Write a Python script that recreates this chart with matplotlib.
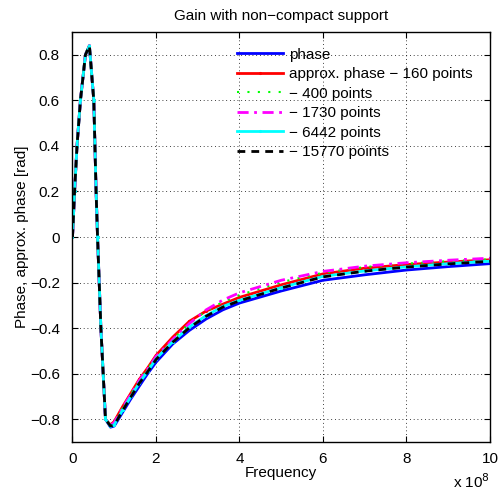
import numpy as np
import matplotlib
matplotlib.use("Agg")
import matplotlib.pyplot as plt

plt.rcParams['font.family'] = ['Liberation Sans', 'DejaVu Sans']

# frequency grid, in units of 1e8 Hz
freq_1e8 = [0, 0.05, 0.108, 0.19, 0.31, 0.405, 0.51, 0.565, 0.6, 0.68, 0.79, 0.91,
            1.0, 1.2, 1.4, 1.6, 1.8, 2.0, 2.4, 2.8, 3.2, 3.6, 4.0, 5.0, 6.0, 7.0, 8.0, 9.0, 10.0]

phase = [0, 0.2, 0.4, 0.6, 0.8, 0.84, 0.6, 0.2, 0.0, -0.4, -0.8, -0.835,
         -0.83, -0.77, -0.71, -0.655, -0.60, -0.55, -0.47, -0.41, -0.36, -0.32, -0.29,
         -0.237, -0.19, -0.166, -0.145, -0.13, -0.117]
approx_160 = [0, 0.2, 0.4, 0.6, 0.8, 0.84, 0.6, 0.2, 0.0, -0.4, -0.8, -0.825,
              -0.81, -0.745, -0.685, -0.625, -0.575, -0.52, -0.44, -0.37, -0.325, -0.295, -0.265,
              -0.21, -0.162, -0.137, -0.121, -0.11, -0.10]
approx_400 = [0, 0.2, 0.4, 0.6, 0.8, 0.84, 0.6, 0.2, 0.0, -0.4, -0.8, -0.828,
              -0.815, -0.75, -0.69, -0.63, -0.58, -0.525, -0.45, -0.38, -0.325, -0.285, -0.255,
              -0.198, -0.157, -0.132, -0.117, -0.106, -0.098]
approx_1730 = [0, 0.2, 0.4, 0.6, 0.8, 0.84, 0.6, 0.2, 0.0, -0.4, -0.8, -0.828,
               -0.815, -0.75, -0.69, -0.63, -0.58, -0.525, -0.45, -0.38, -0.32, -0.277, -0.245,
               -0.19, -0.151, -0.128, -0.113, -0.102, -0.093]
approx_6442 = [0, 0.2, 0.4, 0.6, 0.8, 0.84, 0.6, 0.2, 0.0, -0.4, -0.8, -0.83,
               -0.825, -0.76, -0.70, -0.64, -0.59, -0.535, -0.46, -0.395, -0.345, -0.305, -0.278,
               -0.222, -0.173, -0.149, -0.131, -0.117, -0.106]
approx_15770 = [0, 0.2, 0.4, 0.6, 0.8, 0.84, 0.6, 0.2, 0.0, -0.4, -0.8, -0.83,
                -0.826, -0.762, -0.702, -0.642, -0.592, -0.538, -0.462, -0.398, -0.348, -0.308, -0.28,
                -0.224, -0.175, -0.15, -0.132, -0.118, -0.107]

labels = ['phase', 'approx. phase \u2212 160 points', '\u2212 400 points',
          '\u2212 1730 points', '\u2212 6442 points', '\u2212 15770 points']

freq = np.array(freq_1e8) * 1e8
FS = 11

fig = plt.figure(figsize=(5.01, 4.93), dpi=100)
ax = fig.add_axes([0.1447, 0.1035, 0.8333, 0.8315])

ax.plot(freq, phase, color=(0, 0, 1), lw=2, label=labels[0])
ax.plot(freq, approx_160, color=(1, 0, 0), lw=2, marker='.', markersize=2.5, label=labels[1])
ax.plot(freq, approx_400, color=(0, 1, 0), lw=1.5, dashes=(1, 4), label=labels[2])
ax.plot(freq, approx_1730, color=(1, 0, 1), lw=2, dashes=(4, 2, 1, 2), label=labels[3])
ax.plot(freq, approx_6442, color=(0, 1, 1), lw=2, marker='.', markersize=2.5, label=labels[4])
ax.plot(freq, approx_15770, color='k', lw=2, dashes=(2.8, 2.2), label=labels[5])

ax.set_xlim(0, 1e9)
ax.set_ylim(-0.9, 0.9)
ax.set_xticks(np.arange(0, 11, 2) * 1e8)
ax.set_xticklabels([str(v) for v in range(0, 11, 2)])
yt = [-0.8, -0.6, -0.4, -0.2, 0, 0.2, 0.4, 0.6, 0.8]
ax.set_yticks(yt)
ax.set_yticklabels([('\u2212' + f'{abs(v):g}') if v < 0 else f'{v:g}' for v in yt])
ax.tick_params(direction='in', top=True, right=True, length=4, width=0.8,
               labelsize=FS)
ax.tick_params(axis='y', pad=9)
ax.tick_params(axis='x', pad=7)
ax.grid(True, color='k', linestyle=(0, (1, 3.5)), linewidth=0.6)
for s in ax.spines.values():
    s.set_linewidth(1.0)

ax.set_title('Gain with non\u2212compact support', fontsize=FS, pad=9)
ax.set_xlabel('Frequency', fontsize=FS, labelpad=0)
ax.set_ylabel('Phase, approx. phase [rad]', fontsize=FS, labelpad=1)
ax.text(1.0, -0.075, r'x 10$^{8}$', transform=ax.transAxes, ha='right', va='top', fontsize=FS)

leg = ax.legend(loc='upper left', bbox_to_anchor=(0.395, 0.962), frameon=False,
                fontsize=FS, handlelength=3.0, handletextpad=0.4, labelspacing=0.36,
                borderpad=0, borderaxespad=0)

fig.savefig('out.png', dpi=100)
